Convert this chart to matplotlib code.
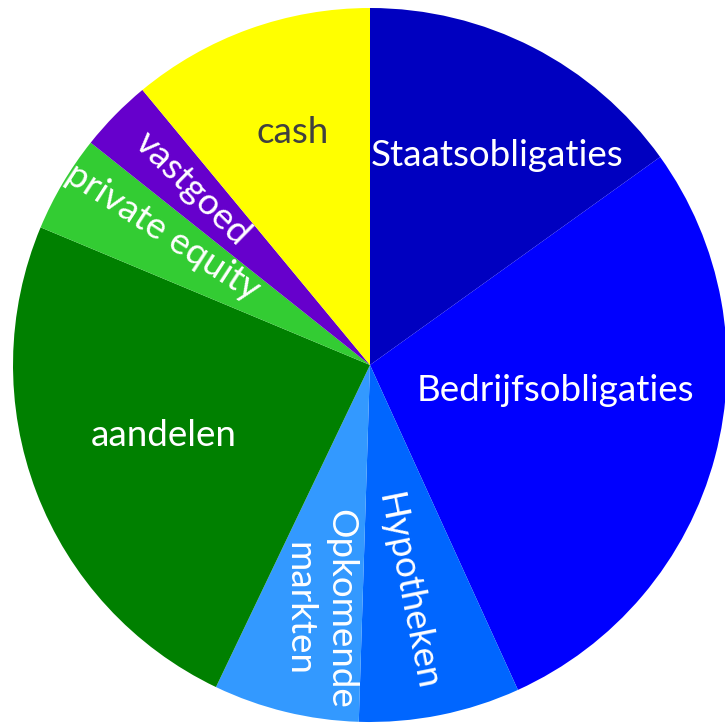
import numpy as np
import matplotlib.pyplot as plt

# Portfolio allocation (percent), read clockwise from 12 o'clock
categories = ["Staatsobligaties", "Bedrijfsobligaties", "Hypotheken", "Opkomende\nmarkten",
              "aandelen", "private equity", "vastgoed", "cash"]
values = [15.1, 28.1, 7.3, 6.6, 24.2, 4.4, 3.3, 11.0]
colors = ["#0000C0", "#0000FF", "#0066FF", "#3399FF",
          "#008000", "#33CC33", "#6600CC", "#FFFF00"]
text_colors = ["white"] * 7 + ["#404040"]

# label placement: (angle in degrees, radius fraction, rotation)
label_pos = [(58.8, 0.687, 0), (-7.7, 0.523, 0), (-80.6, 0.644, -78.7), (-101.6, 0.698, -90),
             (199.0, 0.610, 0), (147.3, 0.689, -33), (135.2, 0.703, -44.5), (108.3, 0.687, 0)]

# pixel geometry of the picture
W, H = 725, 723
CX, CY, R = 370, 365, 357

plt.rcParams["font.family"] = ["Lato", "DejaVu Sans"]

fig = plt.figure(figsize=(W / 100, H / 100), dpi=100)
ax = fig.add_axes([0, 0, 1, 1])
ax.pie(values, colors=colors, startangle=90, counterclock=False, radius=1,
       wedgeprops=dict(linewidth=0))

for name, tc, (ang, r, rot) in zip(categories, text_colors, label_pos):
    a = np.deg2rad(ang)
    ax.text(r * np.cos(a), r * np.sin(a), name, color=tc, fontsize=26.5,
            ha="center", va="center", rotation=rot, rotation_mode="anchor",
            multialignment="center", linespacing=1.3)

ax.set_aspect("auto")
ax.set_xlim(-CX / R, (W - CX) / R)
ax.set_ylim(-(H - CY) / R, CY / R)
ax.axis("off")

fig.savefig("out.png", dpi=100)
